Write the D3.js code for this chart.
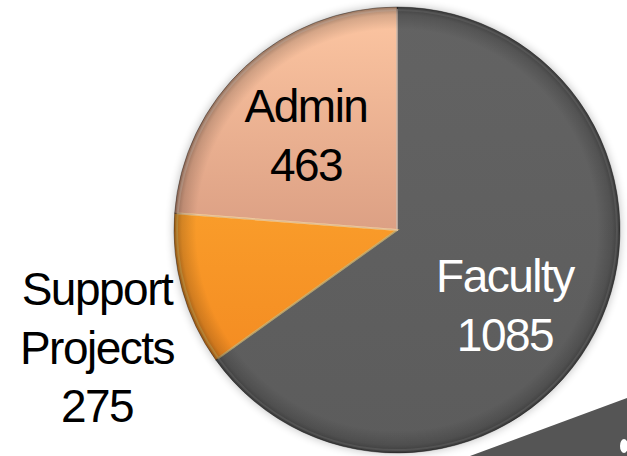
<!DOCTYPE html>
<html>
<head>
<meta charset="utf-8">
<script src="https://cdn.jsdelivr.net/npm/d3@7"></script>
<style>
  html, body { margin: 0; padding: 0; background: #fff; }
  svg { display: block; }
</style>
</head>
<body>
<div id="chart"></div>
<script>
// slices in drawing order (clockwise from 12 o'clock)
const categories = ['Faculty', 'Support Projects', 'Admin'];
const values = [1085, 275, 463];
// share of the circle each slice takes in the picture (%)
const sliceShares = [65.1, 11.1, 23.8];
const labelLines = [['Faculty', '1085'], ['Support', 'Projects', '275'], ['Admin', '463']];

const W = 627, H = 456;
const cx = 397, cy = 230, radius = 223;
const FONT = "'Liberation Sans', Arial, sans-serif";

const svg = d3.select('#chart').append('svg').attr('width', W).attr('height', H);
const defs = svg.append('defs');

// per-slice gradients
const grads = [
  { id: 'g-fac', stops: [['0%', '#636363'], ['100%', '#5c5c5c']] },
  { id: 'g-sup', stops: [['0%', '#f99c2a'], ['100%', '#f48c22']] },
  { id: 'g-adm', stops: [['0%', '#fdc6a2'], ['100%', '#dca084']] }
];
grads.forEach(gd => {
  const lg = defs.append('linearGradient').attr('id', gd.id)
    .attr('x1', 0).attr('y1', 0).attr('x2', 0).attr('y2', 1);
  gd.stops.forEach(([o, c]) => lg.append('stop').attr('offset', o).attr('stop-color', c));
});

// rim darkening
const rim = defs.append('radialGradient').attr('id', 'rim')
  .attr('gradientUnits', 'userSpaceOnUse').attr('cx', 0).attr('cy', 0).attr('r', radius);
rim.append('stop').attr('offset', '0.9').attr('stop-color', '#000').attr('stop-opacity', 0);
rim.append('stop').attr('offset', '0.965').attr('stop-color', '#000').attr('stop-opacity', 0.15);
rim.append('stop').attr('offset', '1').attr('stop-color', '#000').attr('stop-opacity', 0.38);

const shadow = defs.append('filter').attr('id', 'shadow')
  .attr('x', '-10%').attr('y', '-10%').attr('width', '120%').attr('height', '120%');
shadow.append('feGaussianBlur').attr('stdDeviation', 4);

const colorScale = d3.scaleOrdinal().domain(categories).range(['url(#g-fac)', 'url(#g-sup)', 'url(#g-adm)']);
const edgeScale = d3.scaleOrdinal().domain(categories).range(['#8c8c8c', '#fdd66e', '#ffe0cc']);

// decorative dark band bottom right
svg.append('path')
  .attr('d', `M470,${H} L${W},398 L${W},${H} Z`)
  .attr('fill', '#555555');
svg.append('ellipse').attr('cx', 624).attr('cy', 446).attr('rx', 4).attr('ry', 7).attr('fill', '#fff');

const g = svg.append('g').attr('transform', `translate(${cx},${cy})`);

g.append('circle').attr('r', radius + 1).attr('fill', '#000').attr('opacity', 0.22)
  .attr('filter', 'url(#shadow)');

const pie = d3.pie().sort(null).value(d => d.share);
const arcs = pie(categories.map((c, i) => ({
  name: c, value: values[i], share: sliceShares[i], lines: labelLines[i]
})));
const arc = d3.arc().innerRadius(0).outerRadius(radius);
const innerArc = d3.arc().innerRadius(0).outerRadius(radius - 3);

g.selectAll('.slice').data(arcs).join('path')
  .attr('class', 'slice')
  .attr('d', arc)
  .attr('fill', d => colorScale(d.data.name))
  .attr('stroke', 'rgba(0,0,0,0.35)')
  .attr('stroke-width', 1);

// bevel highlight along slice edges
g.selectAll('.bevel').data(arcs).join('path')
  .attr('class', 'bevel')
  .attr('d', innerArc)
  .attr('fill', 'none')
  .attr('stroke', d => edgeScale(d.data.name))
  .attr('stroke-opacity', 0.5)
  .attr('stroke-width', 2);

g.append('circle').attr('r', radius).attr('fill', 'url(#rim)');

// labels
const labelPos = {
  'Faculty': { x: 505, y: 292, color: '#fff' },
  'Support Projects': { x: 97, y: 305, color: '#000' },
  'Admin': { x: 306, y: 122, color: '#000' }
};
const lineGap = 58.5;

arcs.forEach(d => {
  const p = labelPos[d.data.name];
  const t = svg.append('text')
    .attr('text-anchor', 'middle')
    .attr('font-family', FONT)
    .attr('font-size', 46)
    .attr('letter-spacing', -1.5)
    .attr('fill', p.color);
  d.data.lines.forEach((ln, i) => {
    t.append('tspan').attr('x', p.x).attr('y', p.y + i * lineGap).text(ln);
  });
});
</script>
</body>
</html>
